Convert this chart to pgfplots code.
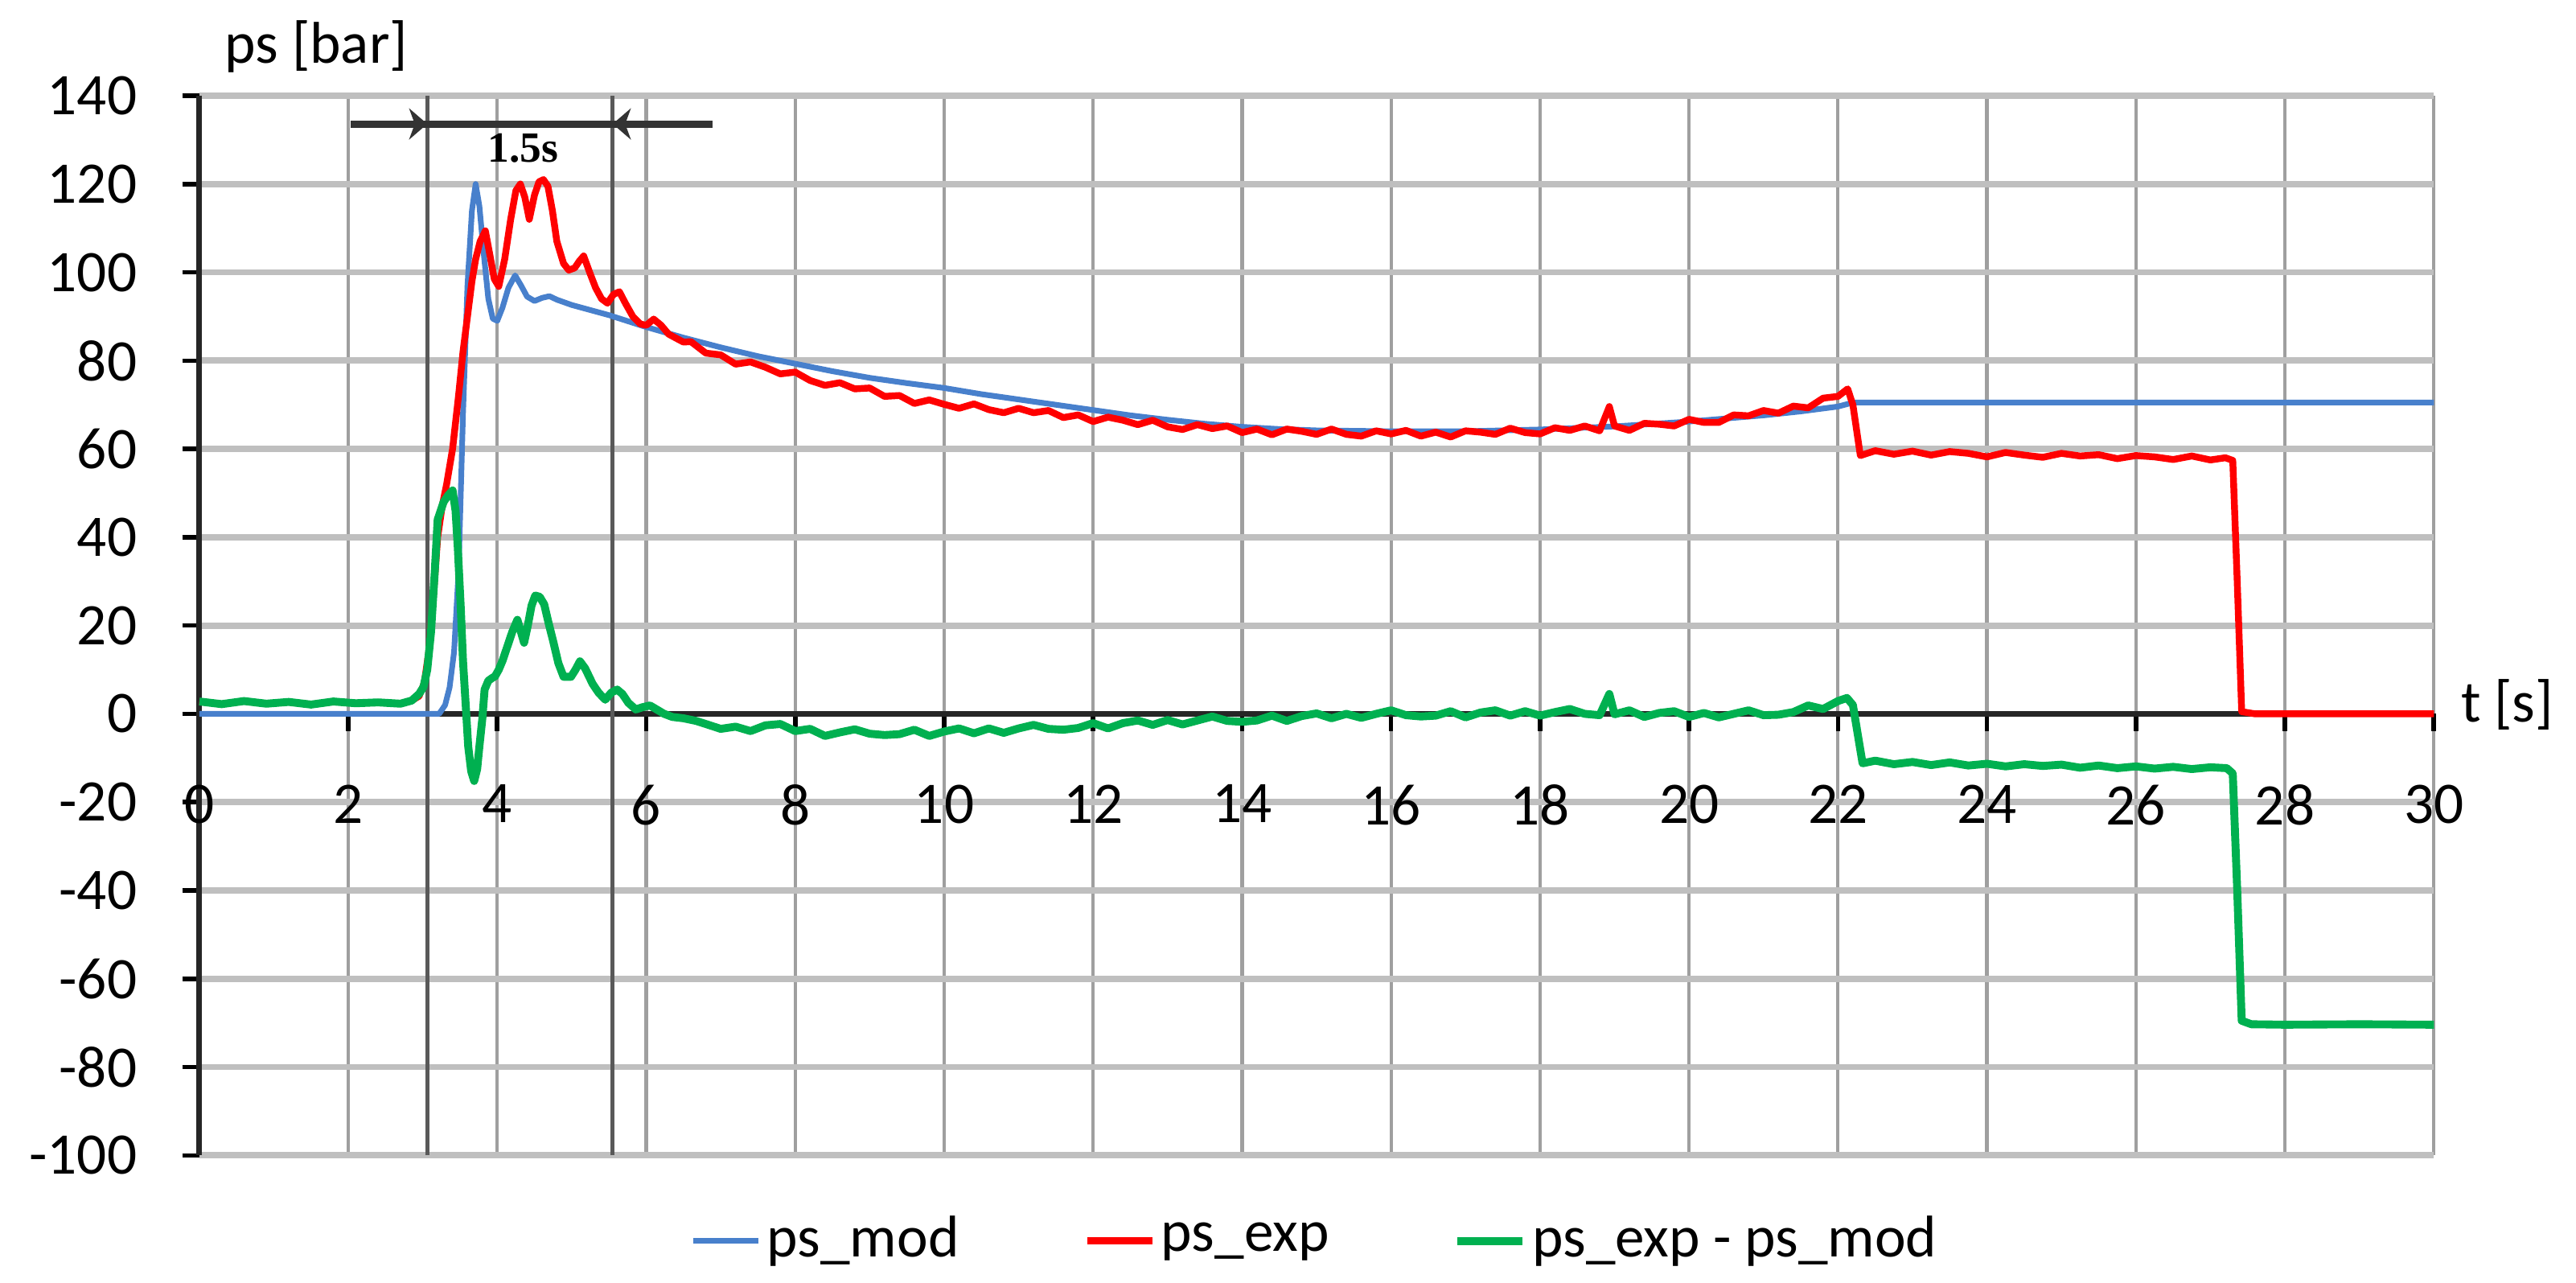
\documentclass[border=0pt]{standalone}
\usepackage{fontspec}
\setmainfont{Carlito}
\newfontfamily\annfont{Liberation Serif}
\usepackage{pgfplots}
\pgfplotsset{compat=1.18}
\usetikzlibrary{arrows.meta,calc}
\definecolor{modblue}{RGB}{72,128,204}
\definecolor{expred}{RGB}{255,0,0}
\definecolor{diffgreen}{RGB}{0,176,80}
\newcommand{\lblfont}{\fontsize{10.4}{12}\selectfont}

\begin{document}
\begin{tikzpicture}
\begin{axis}[
    set layers,
    scale only axis, width=394.6pt, height=187.1pt,
    xmin=0, xmax=30, ymin=-100, ymax=140,
    xtick={0,2,...,30}, ytick={-100,-80,...,140},
    axis x line=middle, axis y line=left,
    axis line style={-, line width=1pt, black!85},
    hide obscured x ticks=false, hide obscured y ticks=false,
    tick align=outside, major tick length=3pt,
    tick style={black, line width=0.8pt},
    grid=major,
    x grid style={gray!75, line width=0.6pt},
    y grid style={gray!50, line width=1.1pt},
    ticklabel style={font=\lblfont},
    /pgf/number format/assume math mode=true,
    yticklabel style={xshift=-4.5pt},
    xticklabel style={yshift=-6pt},
    clip=false,
    legend style={at={(0.5,-0.0807)}, anchor=center, draw=none, fill=none,
        legend columns=3, font=\lblfont,
        /tikz/every even column/.append style={column sep=21pt},
        nodes={inner sep=1pt}},
    legend image code/.code={\draw[#1] (0pt,0pt) -- (11.5pt,0pt);},
]
% marks of the 1.5 s window
\draw[black!65, line width=0.7pt] (axis cs:3.06,-100) -- (axis cs:3.06,140);
\draw[black!65, line width=0.7pt] (axis cs:5.55,-100) -- (axis cs:5.55,140);
\draw[black!80, line width=1.3pt] (axis cs:2.03,133.6) -- (axis cs:6.89,133.6);
\draw[black!80, line width=1.3pt, -{Stealth[length=3.2pt,width=5.5pt,inset=1pt]}] (axis cs:2.6,133.6) -- (axis cs:3.06,133.6);
\draw[black!80, line width=1.3pt, -{Stealth[length=3.2pt,width=5.5pt,inset=1pt]}] (axis cs:6.0,133.6) -- (axis cs:5.55,133.6);
\node[font=\annfont\bfseries\fontsize{7.6}{9}\selectfont] at (axis cs:4.35,128.2) {1.5s};

\addplot[modblue, line width=1.0pt, line join=round] coordinates {
(0,0) (3.22,0) (3.3,2) (3.36,6) (3.42,14) (3.48,32) (3.54,68) (3.6,97) (3.66,114)
(3.71,120) (3.76,115) (3.82,104) (3.88,94) (3.94,89.5) (4.0,89) (4.07,92) (4.15,96.5)
(4.24,99.3) (4.32,97) (4.4,94.5) (4.5,93.5) (4.6,94.2) (4.7,94.6) (4.8,93.8) (5.0,92.6)
(5.5,90.3) (6.0,87.6) (6.5,85.2) (7.0,83) (7.5,81) (8.0,79.3) (8.5,77.6) (9.0,76.1)
(9.5,74.9) (10,73.8) (10.5,72.4) (11,71.2) (11.5,70) (12,68.8) (12.5,67.6) (13,66.6)
(13.5,65.7) (14,65.0) (14.5,64.5) (15,64.2) (16,64.0) (17,64.0) (18,64.4) (19,65.1)
(20,66.2) (21,67.6) (21.5,68.5) (22,69.6) (22.2,70.5) (30,70.5)
};
\addlegendentry{ps\_mod}

\addplot[expred, line width=1.2pt, line join=round] coordinates {
(0,2.8) (0.3,2.2) (0.6,2.9) (0.9,2.3) (1.2,2.7) (1.5,2.1) (1.8,2.8) (2.1,2.4) (2.4,2.6)
(2.7,2.3) (2.85,3) (2.95,4) (3.02,7) (3.08,14) (3.14,26) (3.2,40) (3.26,47) (3.32,52)
(3.4,60) (3.48,72) (3.54,82) (3.6,90) (3.66,98) (3.71,103) (3.77,107) (3.84,109.4)
(3.9,104) (3.96,98.5) (4.02,96.8) (4.1,103) (4.18,112) (4.25,118.5) (4.31,120)
(4.37,117) (4.43,112) (4.5,117.5) (4.56,120.5) (4.62,121) (4.68,119.5) (4.74,114)
(4.8,107) (4.89,102) (4.96,100.5) (5.04,101) (5.1,102.5) (5.16,103.7) (5.24,100)
(5.32,96.5) (5.4,94) (5.48,93) (5.56,95) (5.64,95.6) (5.72,93) (5.82,90) (5.92,88.3)
(6.0,88) (6.1,89.4) (6.2,88) (6.3,86) (6.41,85) (6.5,84.2)
(6.6,84.3) (6.8,81.7) (7.0,81.3) (7.2,79.2) (7.4,79.7) (7.6,78.5) (7.8,77.0) (8.0,77.4)
(8.2,75.5) (8.4,74.4) (8.6,75.0) (8.8,73.6) (9.0,73.8) (9.2,71.9) (9.4,72.1) (9.6,70.3)
(9.8,71.1) (10.0,70.1) (10.2,69.2) (10.4,70.2) (10.6,68.9) (10.8,68.2) (11.0,69.2)
(11.2,68.2) (11.4,68.7) (11.6,67.1) (11.8,67.7) (12.0,66.2) (12.2,67.2) (12.4,66.5)
(12.6,65.5) (12.8,66.5) (13.0,65.0) (13.2,64.4) (13.4,65.5) (13.6,64.6) (13.8,65.2)
(14.0,63.7) (14.2,64.5) (14.4,63.2) (14.6,64.5) (14.8,64.0) (15.0,63.3) (15.2,64.5)
(15.4,63.3) (15.6,62.9) (15.8,64.1) (16.0,63.4) (16.2,64.2) (16.4,62.9) (16.6,63.8)
(16.8,62.7) (17.0,64.1) (17.2,63.8) (17.4,63.3) (17.6,64.7) (17.8,63.7) (18.0,63.4)
(18.2,64.8) (18.4,64.2) (18.6,65.2) (18.8,64.1) (18.93,69.6) (19.0,65.2) (19.2,64.2)
(19.4,65.8) (19.6,65.6) (19.8,65.2) (20.0,66.7) (20.2,66.0) (20.4,66.0) (20.6,67.7)
(20.8,67.5) (21.0,68.7) (21.2,68.1) (21.4,69.7) (21.6,69.3) (21.8,71.5) (22.0,71.9)
(22.13,73.6) (22.2,70) (22.3,58.5) (22.5,59.6) (22.75,58.8) (23.0,59.5) (23.25,58.6)
(23.5,59.4) (23.75,59.0) (24.0,58.2) (24.25,59.2) (24.5,58.6) (24.75,58.1) (25.0,59.0)
(25.25,58.4) (25.5,58.7) (25.75,57.8) (26.0,58.5) (26.25,58.2) (26.5,57.6) (26.75,58.4)
(27.0,57.5) (27.2,58.0) (27.3,57.4) (27.36,30) (27.42,0.5) (27.6,0) (30,0)
};
\addlegendentry{ps\_exp}

\addplot[diffgreen, line width=1.4pt, line join=round] coordinates {
(0,2.8) (0.3,2.2) (0.6,2.9) (0.9,2.3) (1.2,2.7) (1.5,2.1) (1.8,2.8) (2.1,2.4) (2.4,2.6)
(2.7,2.3) (2.85,3) (2.95,4.5) (3.01,6.1) (3.06,10) (3.11,18.4) (3.16,32) (3.2,44)
(3.28,48) (3.34,49.5) (3.4,50.6) (3.44,46) (3.47,37.7) (3.51,24) (3.54,12) (3.58,1)
(3.61,-7.4) (3.65,-13) (3.69,-15.2) (3.73,-12.5) (3.76,-7.4) (3.8,-1) (3.83,5.5)
(3.88,7.5) (3.93,8.1) (3.97,8.5) (4.02,10) (4.07,12) (4.12,14.5) (4.2,18.5) (4.27,21.3)
(4.31,19) (4.36,16.1) (4.41,20) (4.46,24.5) (4.51,26.8) (4.57,26.5) (4.63,24.8)
(4.69,20.5) (4.75,16.5) (4.82,11.5) (4.89,8.4) (4.99,8.4) (5.05,10) (5.11,11.9)
(5.18,10.3) (5.28,6.8) (5.36,4.8) (5.45,3.2) (5.53,4.8) (5.61,5.5) (5.68,4.5) (5.76,2.5)
(5.86,1) (5.95,1.5) (6.05,1.9) (6.14,1.0) (6.24,0) (6.35,-0.7) (6.5,-1.0) (6.67,-1.6)
(6.8,-2.3) (7.0,-3.4) (7.2,-2.9) (7.4,-3.9) (7.6,-2.6) (7.8,-2.3) (8.0,-3.9) (8.2,-3.4)
(8.4,-5.0) (8.6,-4.2) (8.8,-3.5) (9.0,-4.5) (9.2,-4.8) (9.4,-4.6) (9.6,-3.6) (9.8,-5.0)
(10.0,-4.0) (10.2,-3.3) (10.4,-4.4) (10.6,-3.3) (10.8,-4.3) (11.0,-3.3) (11.2,-2.5)
(11.4,-3.4) (11.6,-3.6) (11.8,-3.2) (12.0,-2.1) (12.2,-3.3) (12.4,-2.1) (12.6,-1.5)
(12.8,-2.5) (13.0,-1.4) (13.2,-2.4) (13.4,-1.5) (13.6,-0.6) (13.8,-1.6) (14.0,-1.8)
(14.2,-1.5) (14.4,-0.4) (14.6,-1.6) (14.8,-0.5) (15.0,0.1) (15.2,-1.0) (15.4,0.0)
(15.6,-0.9) (15.8,0.0) (16.0,0.8) (16.2,-0.3) (16.4,-0.6) (16.6,-0.4) (16.8,0.6)
(17.0,-0.8) (17.2,0.3) (17.4,0.8) (17.6,-0.4) (17.8,0.6) (18.0,-0.4) (18.2,0.4)
(18.4,1.1) (18.6,0.0) (18.8,-0.3) (18.93,4.5) (19.0,-0.1) (19.2,0.8) (19.4,-0.7)
(19.6,0.2) (19.8,0.6) (20.0,-0.7) (20.2,0.2) (20.4,-0.8) (20.6,0.0) (20.8,0.8)
(21.0,-0.3) (21.2,-0.2) (21.4,0.4) (21.6,1.9) (21.8,1.1) (22.0,2.9) (22.12,3.6)
(22.2,2.0) (22.33,-11.2) (22.5,-10.6) (22.75,-11.4) (23.0,-10.9) (23.25,-11.6)
(23.5,-11.0) (23.75,-11.7) (24.0,-11.3) (24.25,-11.9) (24.5,-11.4) (24.75,-11.8)
(25.0,-11.5) (25.25,-12.2) (25.5,-11.7) (25.75,-12.3) (26.0,-11.9) (26.25,-12.4)
(26.5,-12.0) (26.75,-12.5) (27.0,-12.1) (27.22,-12.3) (27.3,-13.5) (27.36,-40)
(27.42,-69.5) (27.55,-70.3) (28,-70.4) (29,-70.3) (30,-70.4)
};
\addlegendentry{ps\_exp - ps\_mod}

\node[anchor=base west, font=\lblfont] at ([shift={(1pt,5.8pt)}]rel axis cs:0,1) {ps [bar]};
\node[anchor=west, font=\lblfont] at ([shift={(1.3pt,1.6pt)}]axis cs:30,0) {t [s]};
\end{axis}
\path ([shift={(-35.2pt,-22.2pt)}]current axis.south west) rectangle ([shift={(25.1pt,16.9pt)}]current axis.north east);
\end{tikzpicture}
\end{document}
